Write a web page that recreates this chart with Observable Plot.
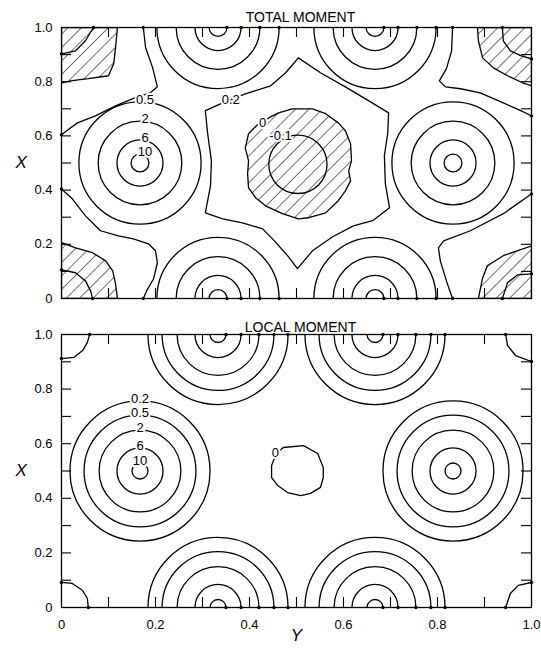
<!DOCTYPE html>
<html>
<head>
<meta charset="utf-8">
<script src="https://cdn.jsdelivr.net/npm/d3@7"></script>
<script src="https://cdn.jsdelivr.net/npm/@observablehq/plot@0.6"></script>
<style>
  body { margin: 0; background: #fff; }
  #chart svg { display: block; }
</style>
</head>
<body>
<div id="chart"></div>
<script>
// Atom sites of the cell, given as (Y, X)
const siteY = [0.167, 0.833, 0.333, 0.667, 0.333, 0.667];
const siteX = [0.5, 0.5, 0, 0, 1, 1];

// Contour levels around each atom and their radii (in units of Y)
const totalLevels = ["10", "6", "2", "0.5"];
const totalRadii = [0.019, 0.049, 0.089, 0.130];
const localLevels = ["10", "6", "2", "0.5", "0.2"];
const localRadii = [0.017, 0.049, 0.087, 0.119, 0.149];

// Axis ticks
const gridTicks = [0.1, 0.2, 0.3, 0.4, 0.5, 0.6, 0.7, 0.8, 0.9];
const labelTicks = [0, 0.2, 0.4, 0.6, 0.8, 1.0];

// TOTAL MOMENT: 0.2 contour around the hexagonal interstitial region, as [Y, X]
const total02Star = [
  [0.504, 0.888], [0.551, 0.833], [0.604, 0.781], [0.653, 0.730], [0.696, 0.685],
  [0.694, 0.608], [0.687, 0.527], [0.689, 0.423], [0.698, 0.335], [0.662, 0.287],
  [0.621, 0.268], [0.577, 0.228], [0.534, 0.176], [0.502, 0.110], [0.483, 0.154],
  [0.455, 0.209], [0.428, 0.257], [0.385, 0.279], [0.343, 0.294], [0.306, 0.316],
  [0.317, 0.416], [0.319, 0.508], [0.311, 0.608], [0.306, 0.693], [0.343, 0.722],
  [0.391, 0.755], [0.445, 0.785], [0.477, 0.833]
];
// 0.2 contours near the four corners
const total02TL = [
  [0.174, 1.0], [0.179, 0.925], [0.194, 0.851], [0.204, 0.781], [0.189, 0.759],
  [0.157, 0.741], [0.115, 0.711], [0.072, 0.674], [0.034, 0.648], [0.011, 0.619], [0, 0.604]
];
const total02BL = [
  [0, 0.404], [0.023, 0.368], [0.051, 0.305], [0.083, 0.250], [0.121, 0.231],
  [0.153, 0.220], [0.185, 0.202], [0.200, 0.176], [0.204, 0.132], [0.196, 0.073],
  [0.181, 0.028], [0.174, 0]
];
const total02TR = [
  [0.832, 1.0], [0.830, 0.914], [0.819, 0.848], [0.804, 0.803], [0.817, 0.781],
  [0.849, 0.774], [0.891, 0.759], [0.940, 0.722], [0.977, 0.693], [1.0, 0.674]
];
const total02BR = [
  [1.0, 0.386], [0.940, 0.313], [0.870, 0.250], [0.813, 0.213], [0.802, 0.187],
  [0.806, 0.139], [0.821, 0.054], [0.832, 0]
];
// Negative-moment regions (0 contour), closed along the frame at the corners
const total0Center = [
  [0.398, 0.608], [0.419, 0.645], [0.449, 0.674], [0.462, 0.685], [0.491, 0.700],
  [0.534, 0.700], [0.562, 0.682], [0.589, 0.648], [0.604, 0.619], [0.615, 0.571],
  [0.617, 0.508], [0.611, 0.471], [0.615, 0.434], [0.604, 0.397], [0.589, 0.361],
  [0.562, 0.316], [0.526, 0.298], [0.504, 0.294], [0.470, 0.313], [0.434, 0.342],
  [0.413, 0.372], [0.398, 0.408], [0.396, 0.460], [0.398, 0.508], [0.391, 0.556]
];
const total0TL = [
  [0, 1], [0.119, 1], [0.115, 0.925], [0.111, 0.866], [0.100, 0.822],
  [0.057, 0.811], [0.023, 0.804], [0, 0.796]
];
const total0BL = [
  [0, 0], [0, 0.206], [0.030, 0.187], [0.066, 0.169], [0.094, 0.139],
  [0.109, 0.102], [0.115, 0.054], [0.119, 0]
];
const total0TR = [
  [1, 1], [0.885, 1], [0.887, 0.951], [0.896, 0.888], [0.919, 0.851],
  [0.949, 0.822], [0.981, 0.796], [1, 0.785]
];
const total0BR = [
  [1, 0], [1, 0.194], [0.940, 0.158], [0.906, 0.121], [0.896, 0.076], [0.887, 0]
];
// Inner corner contours inside the negative regions
const totalInnerTL = [[0, 0.903], [0.030, 0.914], [0.051, 0.951], [0.068, 1.0]];
const totalInnerBL = [[0, 0.106], [0.030, 0.095], [0.051, 0.065], [0.062, 0.028], [0.066, 0]];
const totalInnerTR = [[0.938, 1], [0.940, 0.951], [0.955, 0.914], [0.977, 0.896], [1, 0.884]];
const totalInnerBR = [[1, 0.091], [0.970, 0.087], [0.949, 0.058], [0.938, 0]];
// -0.1 contour at the centre: centre (Y, X) and radius in units of Y
const minusCenter = [0.503, 0.495];
const minusRadius = 0.062;
// Free-standing contour labels: text, Y, X
const totalLabelText = ["0.2", "0", "-0.1"];
const totalLabelY = [0.360, 0.428, 0.466];
const totalLabelX = [0.733, 0.648, 0.600];

// LOCAL MOMENT: 0 contour in the middle and the corner contours
const local0Center = [
  [0.472, 0.586], [0.515, 0.593], [0.545, 0.564], [0.557, 0.513], [0.557, 0.476],
  [0.551, 0.440], [0.530, 0.418], [0.509, 0.410], [0.481, 0.421], [0.460, 0.447],
  [0.447, 0.476], [0.447, 0.520], [0.457, 0.564]
];
const localTL = [[0, 0.912], [0.026, 0.916], [0.045, 0.941], [0.055, 0.971], [0.060, 1.0]];
const localTR = [[0.945, 1.0], [0.949, 0.960], [0.966, 0.923], [1.0, 0.901]];
const localBL = [[0, 0.092], [0.023, 0.088], [0.045, 0.062], [0.055, 0.033], [0.057, 0]];
const localBR = [[1.0, 0.092], [0.972, 0.081], [0.955, 0.051], [0.945, 0]];
const localLabelText = ["0"];
const localLabelY = [0.455];
const localLabelX = [0.568];

// ---- layout ----
const W = 541;
const mLeft = 61, mRight = 10;
const frameW = W - mLeft - mRight;
const font = "'Liberation Sans', Arial, Helvetica, sans-serif";
const lw = 1.3;

const sites = siteY.map((y, i) => ({y, x: siteX[i]}));
const edgeSites = sites.filter(s => s.x === 0 || s.x === 1);
const fmt = d => (d === 0 ? "0" : d.toFixed(1));
const px = d => d[0], py = d => d[1];

function insideTicks(fh) {
  return [
    Plot.tickX(gridTicks, {x: d => d, insetTop: fh - 10, stroke: "black", strokeWidth: 1.1}),
    Plot.tickX(gridTicks, {x: d => d, insetBottom: fh - 10, stroke: "black", strokeWidth: 1.1}),
    Plot.tickY(gridTicks, {y: d => d, insetRight: frameW - 10, stroke: "black", strokeWidth: 1.1}),
    Plot.tickY(gridTicks, {y: d => d, insetLeft: frameW - 10, stroke: "black", strokeWidth: 1.1})
  ];
}

function rings(radii) {
  return radii.map(r => Plot.dot(sites, {
    x: "y", y: "x", r: r * frameW, fill: "none", stroke: "black", strokeWidth: lw, clip: true
  }));
}

// small markers where the rings and corner contours meet the frame
function edgeMarkers(radii, lines) {
  const pts = [];
  for (const s of edgeSites) for (const r of radii) pts.push([s.y + r, s.x]);
  for (const l of lines) { pts.push(l[0]); pts.push(l[l.length - 1]); }
  return Plot.dot(pts, {x: px, y: py, r: 1.7, fill: "black", stroke: "none"});
}

function ringLabels(levels, radii, fh, dx) {
  return Plot.text(levels, {
    x: () => siteY[0],
    y: (d, j) => siteX[0] + radii[j] * frameW / fh,
    text: d => d, dx, dy: -2,
    fontSize: 13, fill: "black", stroke: "white", strokeWidth: 4
  });
}

function curve(points, closed) {
  return Plot.line(points, {
    x: px, y: py, stroke: "black", strokeWidth: lw,
    curve: closed ? "linear-closed" : "linear", clip: true
  });
}

function hatched(points) {
  return Plot.line(points, {
    x: px, y: py, stroke: "black", strokeWidth: lw,
    fill: "url(#hatch)", curve: "linear-closed", clip: true
  });
}

// ---- TOTAL MOMENT ----
const topH = 271;
const totalChart = Plot.plot({
  width: W, height: 27 + topH + 12,
  marginLeft: mLeft, marginRight: mRight, marginTop: 27, marginBottom: 12,
  style: {fontFamily: font, fontSize: "13px", color: "black", background: "white"},
  x: {domain: [0, 1], axis: null},
  y: {domain: [0, 1], ticks: labelTicks, tickSize: 0, tickPadding: 9, tickFormat: fmt, label: null},
  marks: [
    hatched(total0Center), hatched(total0TL), hatched(total0BL), hatched(total0TR), hatched(total0BR),
    curve(totalInnerTL), curve(totalInnerBL), curve(totalInnerTR), curve(totalInnerBR),
    Plot.dot([minusCenter], {x: px, y: py, r: minusRadius * frameW, fill: "none", stroke: "black", strokeWidth: lw}),
    curve(total02Star, true), curve(total02TL), curve(total02BL), curve(total02TR), curve(total02BR),
    ...rings(totalRadii),
    ringLabels(totalLevels, totalRadii, topH, 5),
    Plot.text(totalLabelText, {
      x: (d, i) => totalLabelY[i], y: (d, i) => totalLabelX[i], text: d => d,
      fontSize: 13, fill: "black", stroke: "white", strokeWidth: 4
    }),
    ...insideTicks(topH),
    edgeMarkers(totalRadii, [total02TL, total02BL, total02TR, total02BR, totalInnerTL, totalInnerBL, totalInnerTR, totalInnerBR]),
    Plot.frame({stroke: "black", strokeWidth: 1.3}),
    Plot.text(["TOTAL MOMENT"], {frameAnchor: "top", dy: -15, dx: 4, text: d => d, fontSize: 14, fill: "black"}),
    Plot.text(["X"], {frameAnchor: "left", dx: -46, text: d => d, fontSize: 17, fontStyle: "italic", fill: "black"})
  ]
});

// ---- LOCAL MOMENT ----
const botH = 273;
const localChart = Plot.plot({
  width: W, height: 24 + botH + 47,
  marginLeft: mLeft, marginRight: mRight, marginTop: 24, marginBottom: 47,
  style: {fontFamily: font, fontSize: "13px", color: "black", background: "white"},
  x: {domain: [0, 1], ticks: labelTicks, tickSize: 0, tickPadding: 12, tickFormat: fmt, label: null},
  y: {domain: [0, 1], ticks: labelTicks, tickSize: 0, tickPadding: 9, tickFormat: fmt, label: null},
  marks: [
    curve(local0Center, true), curve(localTL), curve(localTR), curve(localBL), curve(localBR),
    ...rings(localRadii),
    ringLabels(localLevels, localRadii, botH, 0),
    Plot.text(localLabelText, {
      x: (d, i) => localLabelY[i], y: (d, i) => localLabelX[i], text: d => d,
      fontSize: 13, fill: "black", stroke: "white", strokeWidth: 4
    }),
    ...insideTicks(botH),
    edgeMarkers(localRadii, [localTL, localTR, localBL, localBR]),
    Plot.frame({stroke: "black", strokeWidth: 1.3}),
    Plot.text(["LOCAL MOMENT"], {frameAnchor: "top", dy: -12, dx: 4, text: d => d, fontSize: 14, fill: "black"}),
    Plot.text(["X"], {frameAnchor: "left", dx: -46, text: d => d, fontSize: 17, fontStyle: "italic", fill: "black"}),
    Plot.text(["Y"], {frameAnchor: "bottom", dy: 33, text: d => d, fontSize: 17, fontStyle: "italic", fill: "black"})
  ]
});

// Diagonal hatching used for the negative regions
const pat = d3.select(totalChart).insert("defs", ":first-child")
  .append("pattern")
  .attr("id", "hatch")
  .attr("patternUnits", "userSpaceOnUse")
  .attr("width", 9.5).attr("height", 9.5)
  .attr("patternTransform", "rotate(45)");
pat.append("rect").attr("width", 9.5).attr("height", 9.5).attr("fill", "white");
pat.append("line").attr("x1", 0).attr("y1", 0).attr("x2", 0).attr("y2", 9.5)
  .attr("stroke", "black").attr("stroke-width", 1.1);

document.getElementById("chart").append(totalChart, localChart);
</script>
</body>
</html>
